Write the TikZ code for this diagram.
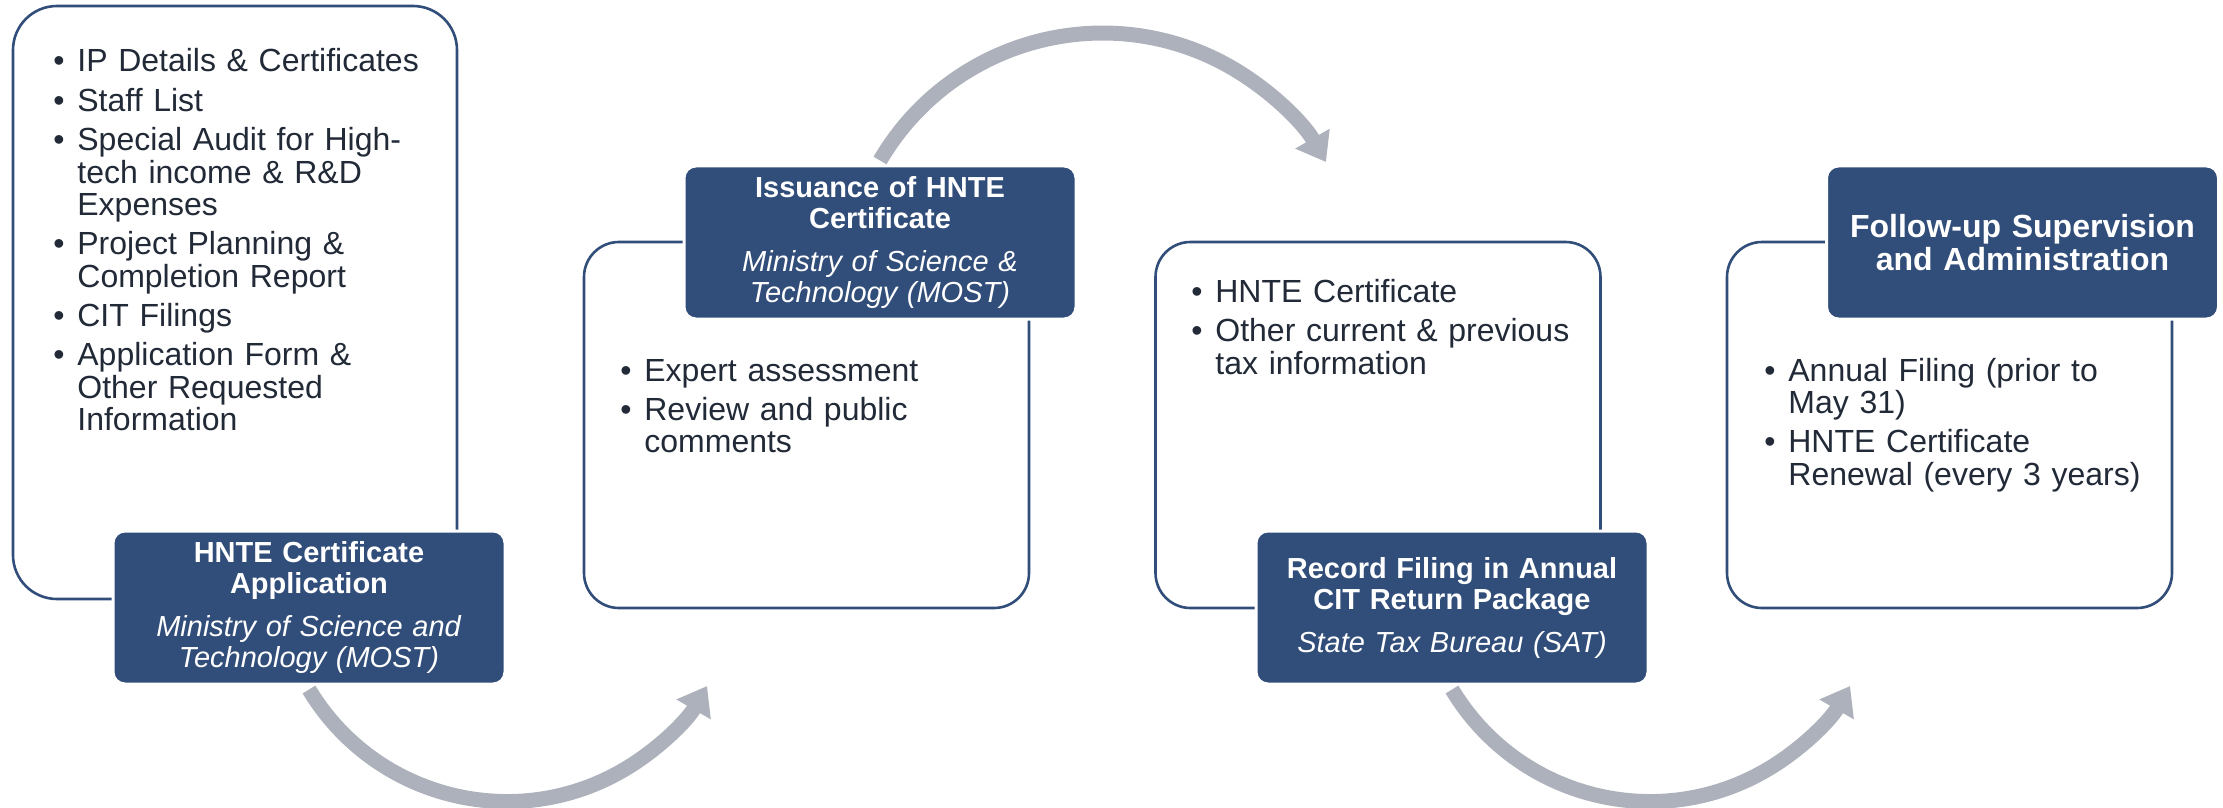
\documentclass[tikz,border=0pt]{standalone}
\usepackage{fontspec}
\setmainfont{Liberation Sans}
\usetikzlibrary{arrows.meta}
\definecolor{navy}{HTML}{314D79}
\definecolor{ink}{HTML}{222A38}
\definecolor{flowgray}{HTML}{ADB1BB}
\newcommand{\itm}[1]{\hangindent=10pt\hangafter=1\noindent\makebox[10pt][l]{\hspace{-2pt}\textbullet}#1\par}

\begin{document}
\begin{tikzpicture}[x=0.5pt,y=-0.5pt,
    info box/.style={draw=navy,line width=1.3pt,fill=white,rounded corners=17.5pt,minimum width=222.5pt,minimum height=183pt,inner sep=0pt},
    list/.style={anchor=base west,text width=200pt,inner sep=0pt,text=ink,font=\fontsize{16}{16.25}\selectfont,execute at begin node={\setlength{\parskip}{3.4pt}}},
    head box/.style={fill=navy,draw=white,line width=1.5pt,rounded corners=6pt,minimum width=196pt,minimum height=76.5pt,inner sep=0pt,text width=185pt,align=center,text=white,font=\fontsize{14.5}{15.5}\selectfont},
    flow/.style={draw=flowgray,line width=7.5pt,-{Triangle[length=13.5pt,width=19pt]}}]
    \useasboundingbox (0,0) rectangle (2223,808);

    \node[info box,minimum width=222pt,minimum height=296.5pt,rounded corners=22pt] at (235,302.5) (docs) {};
    \node[info box] at (806.5,425) (review) {};
    \node[info box] at (1378,425) (taxdocs) {};
    \node[info box] at (1949.5,425) (duties) {};

    \node[list] at (57,72) (l1) {\itm{IP Details \& Certificates}\itm{Staff List}\itm{Special Audit for High-\newline tech income \& R\&D\newline Expenses}\itm{Project Planning \&\newline Completion Report}\itm{CIT Filings}\itm{Application Form \&\newline Other Requested\newline Information}};
    \node[list] at (624,381) (l2) {\itm{Expert assessment}\itm{Review and public\newline comments}};
    \node[list] at (1195,302.5) (l3) {\itm{HNTE Certificate}\itm{Other current \& previous\newline tax information}};
    \node[list] at (1768,381) (l4) {\itm{Annual Filing (prior to\newline May 31)}\itm{HNTE Certificate\newline Renewal (every 3 years)}};

    \node[head box] at (309,607.5) (app) {\textbf{HNTE Certificate}\\\textbf{Application}\\[6pt]\textit{Ministry of Science and}\\\textit{Technology (MOST)}};
    \node[head box] at (880,242.5) (iss) {\textbf{Issuance of HNTE}\\\textbf{Certificate}\\[6pt]\textit{Ministry of Science \&}\\\textit{Technology (MOST)}};
    \node[head box] at (1452,607.5) (rec) {\textbf{Record Filing in Annual}\\\textbf{CIT Return Package}\\[6pt]\textit{State Tax Bureau (SAT)}};
    \node[head box,font=\fontsize{16}{16.5}\selectfont\bfseries] at (2022.5,242.5) (fol) {Follow-up Supervision\\and Administration};

    \draw[flow] ([yshift=-2pt]app.south) arc[start angle=149,end angle=30,radius=231];
    \draw[flow] ([yshift=2pt]iss.north) arc[start angle=210.4,end angle=330,radius=258];
    \draw[flow] ([yshift=-2pt]rec.south) arc[start angle=149,end angle=30,radius=231];
\end{tikzpicture}
\end{document}
